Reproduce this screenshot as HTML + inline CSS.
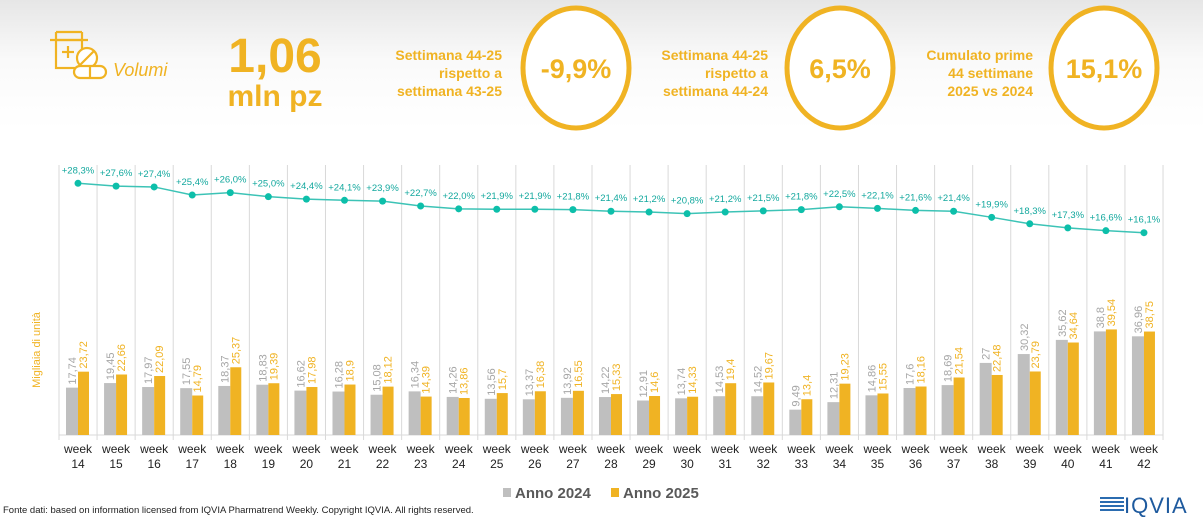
<!DOCTYPE html>
<html><head><meta charset="utf-8"><style>
body{margin:0;width:1203px;height:517px;overflow:hidden;font-family:"Liberation Sans",Arial,sans-serif;background:linear-gradient(#e6e6e6 0px,#fafafa 60px,#fff 130px,#fff 100%);}
svg{position:absolute;left:0;top:0}
</style></head><body>
<svg width="1203" height="517" viewBox="0 0 1203 517" font-family="Liberation Sans, Arial, sans-serif">
<g stroke="#F0B323" stroke-width="2.2" fill="none">
<rect x="56" y="40" width="26" height="28"/>
<line x1="50" y1="40" x2="88" y2="40"/><line x1="56" y1="32" x2="82" y2="32"/>
<line x1="56" y1="32" x2="56" y2="40"/><line x1="82" y1="32" x2="82" y2="40"/>
<line x1="62" y1="52" x2="74" y2="52"/><line x1="68" y1="46" x2="68" y2="58"/>
<circle cx="87" cy="58" r="10" fill="#fff"/><line x1="80" y1="65" x2="94" y2="51"/>
<rect x="74" y="66" width="32" height="12" rx="6" fill="#fff"/><line x1="90" y1="66" x2="90" y2="78"/>
</g>
<text x="113" y="76" font-size="18" font-style="italic" fill="#F0B323">Volumi</text>
<text x="275" y="72" font-size="48" font-weight="bold" fill="#F0B323" text-anchor="middle">1,06</text>
<text x="275" y="106" font-size="30" font-weight="bold" fill="#F0B323" text-anchor="middle">mln pz</text>
<g font-size="14" font-weight="bold" fill="#F0B323" text-anchor="end">
<text x="502" y="60">Settimana 44-25</text><text x="502" y="78">rispetto a</text><text x="502" y="96">settimana 43-25</text>
<text x="768" y="60">Settimana 44-25</text><text x="768" y="78">rispetto a</text><text x="768" y="96">settimana 44-24</text>
<text x="1033" y="60">Cumulato prime</text><text x="1033" y="78">44 settimane</text><text x="1033" y="96">2025 vs 2024</text>
</g>
<g fill="#fff" stroke="#F0B323" stroke-width="5">
<ellipse cx="576" cy="68" rx="53" ry="60"/><ellipse cx="840" cy="68" rx="53" ry="60"/><ellipse cx="1104" cy="68" rx="53" ry="60"/>
</g>
<g font-size="27" font-weight="bold" fill="#F0B323" text-anchor="middle">
<text x="576" y="78">-9,9%</text><text x="840" y="78">6,5%</text><text x="1104" y="78">15,1%</text>
</g>
<text transform="translate(40,350) rotate(-90)" font-size="11" fill="#F0B323" text-anchor="middle">Migliaia di unità</text>
<g id="chart"></g>
<g font-size="15" font-weight="bold" fill="#595959">
<rect x="503" y="488" width="8" height="9" fill="#BFBFBF"/><text x="515" y="498">Anno 2024</text>
<rect x="611" y="488" width="8" height="9" fill="#F0B323"/><text x="623" y="498">Anno 2025</text>
</g>
<text x="3" y="513" font-size="9.5" fill="#222">Fonte dati: based on information licensed from IQVIA Pharmatrend Weekly. Copyright IQVIA. All rights reserved.</text>
<g fill="#2B6CB0"><rect x="1100" y="497" width="24" height="2"/><rect x="1100" y="501" width="24" height="2"/><rect x="1100" y="505" width="24" height="2"/><rect x="1100" y="509" width="24" height="2"/></g>
<text x="1124" y="513" font-size="22" fill="#1E5A9E" letter-spacing="1">IQVIA</text>
</svg>
<script>
var a=[17.74,19.45,17.97,17.55,18.37,18.83,16.62,16.28,15.08,16.34,14.26,13.56,13.37,13.92,14.22,12.91,13.74,14.53,14.52,9.49,12.31,14.86,17.6,18.69,27,30.32,35.62,38.8,36.96];
var b=[23.72,22.66,22.09,14.79,25.37,19.39,17.98,18.9,18.12,14.39,13.86,15.7,16.38,16.55,15.33,14.6,14.33,19.4,19.67,13.4,19.23,15.55,18.16,21.54,22.48,23.79,34.64,39.54,38.75];
var p=[28.3,27.6,27.4,25.4,26.0,25.0,24.4,24.1,23.9,22.7,22.0,21.9,21.9,21.8,21.4,21.2,20.8,21.2,21.5,21.8,22.5,22.1,21.6,21.4,19.9,18.3,17.3,16.6,16.1];
var s='',W=38.07,L=59,B=435,k=2.67,pts=[];
function f(v){return String(v).replace('.',',');}
for(var i=0;i<=29;i++){var x=L+i*W;s+='<line x1="'+x+'" y1="165" x2="'+x+'" y2="440" stroke="#D9D9D9" stroke-width="1"/>';}
s+='<line x1="'+L+'" y1="'+B+'" x2="'+(L+29*W)+'" y2="'+B+'" stroke="#D9D9D9"/>';
for(var i=0;i<29;i++){var l=L+i*W,c=l+19;
var ha=a[i]*k,hb=b[i]*k;
s+='<rect x="'+(l+7)+'" y="'+(B-ha)+'" width="12" height="'+ha+'" fill="#BFBFBF"/>';
s+='<rect x="'+(l+19)+'" y="'+(B-hb)+'" width="11" height="'+hb+'" fill="#F0B323"/>';
s+='<text transform="translate('+(l+17)+','+(B-ha-3)+') rotate(-90)" font-size="11" fill="#A6A6A6">'+f(a[i])+'</text>';
s+='<text transform="translate('+(l+28)+','+(B-hb-3)+') rotate(-90)" font-size="11" fill="#F0B323">'+f(b[i])+'</text>';
var y=183.3-(p[i]-28.3)*4.05;pts.push(c+','+y);
s+='<text x="'+c+'" y="'+(y-10)+'" font-size="9.5" fill="#13A89E" text-anchor="middle">+'+f(p[i].toFixed(1))+'%</text>';
s+='<text x="'+c+'" y="453" font-size="12" fill="#222" text-anchor="middle">week</text>';
s+='<text x="'+c+'" y="468" font-size="12" fill="#222" text-anchor="middle">'+(14+i)+'</text>';}
s+='<polyline points="'+pts.join(' ')+'" fill="none" stroke="#3CC3B6" stroke-width="1.5"/>';
pts.forEach(function(q){var z=q.split(',');s+='<circle cx="'+z[0]+'" cy="'+z[1]+'" r="3.5" fill="#0DBFAA"/>';});
document.getElementById('chart').innerHTML=s;
</script>
</body></html>
